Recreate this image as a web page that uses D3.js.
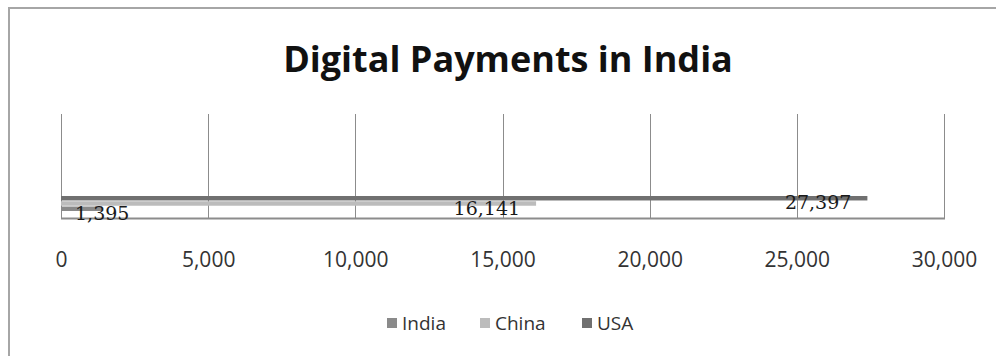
<!DOCTYPE html>
<html>
<head>
<meta charset="utf-8">
<script src="https://cdn.jsdelivr.net/npm/d3@7"></script>
<style>
  body { margin: 0; background: #fff; }
  svg { display: block; }
</style>
</head>
<body>
<script>
// Data
const seriesNames = ['India', 'China', 'USA'];
const seriesValues = [1395, 16141, 27397];
const seriesColors = ['#8a8a8a', '#bcbcbc', '#707070'];
const tickValues = [0, 5000, 10000, 15000, 20000, 25000, 30000];
const title = 'Digital Payments in India';

const W = 996, H = 356;
const svg = d3.select('body').append('svg').attr('width', W).attr('height', H);

// outer chart border (cropped on right and bottom)
svg.append('rect')
  .attr('x', 9).attr('y', 8).attr('width', 1000).attr('height', 400)
  .attr('fill', '#fff').attr('stroke', '#a6a6a6').attr('stroke-width', 2);

svg.append('text')
  .attr('x', 508).attr('y', 72)
  .attr('text-anchor', 'middle')
  .attr('font-family', 'Open Sans, sans-serif')
  .attr('font-weight', 700)
  .attr('font-size', 36)
  .attr('fill', '#111')
  .text(title);

const plot = { left: 61, right: 944, top: 114, bottom: 218 };
const x = d3.scaleLinear().domain([0, 30000]).range([plot.left, plot.right]);

// bars stacked bottom-up in series order (Excel style): India lowest
const y = d3.scaleBand()
  .domain(seriesNames.slice().reverse())
  .range([196, 211])
  .paddingInner(0.15);

// gridlines
svg.append('g')
  .selectAll('line')
  .data(tickValues)
  .join('line')
  .attr('x1', d => Math.round(x(d)) + 0.5).attr('x2', d => Math.round(x(d)) + 0.5)
  .attr('y1', plot.top).attr('y2', plot.bottom)
  .attr('stroke', '#8c8c8c').attr('stroke-width', 1);

svg.append('line')
  .attr('x1', plot.left).attr('x2', plot.right + 1)
  .attr('y1', plot.bottom + 0.5).attr('y2', plot.bottom + 0.5)
  .attr('stroke', '#8c8c8c').attr('stroke-width', 2);

// bars
svg.append('g')
  .selectAll('rect')
  .data(seriesNames.map((n, i) => ({ name: n, value: seriesValues[i], color: seriesColors[i] })))
  .join('rect')
  .attr('x', x(0))
  .attr('y', d => y(d.name))
  .attr('width', d => x(d.value) - x(0))
  .attr('height', y.bandwidth())
  .attr('fill', d => d.color);

// value labels, inside end, clamped to the plot's left edge
const fmt = d3.format(',');
svg.append('g')
  .selectAll('text')
  .data(seriesNames.map((n, i) => ({ name: n, value: seriesValues[i] })))
  .join('text')
  .attr('font-family', 'DejaVu Serif, serif')
  .attr('font-size', 19)
  .attr('fill', '#1a1a1a')
  .attr('text-anchor', 'end')
  .attr('y', d => y(d.name) + y.bandwidth() / 2 + 11)
  .text(d => fmt(d.value))
  .attr('x', function (d) {
    const w = this.getComputedTextLength();
    return Math.max(x(d.value) - 16, plot.left + 14 + w);
  });

// x axis tick labels
const axis = d3.axisBottom(x).tickValues(tickValues).tickFormat(fmt).tickSize(0).tickPadding(0);
const ax = svg.append('g').attr('transform', `translate(0,${267})`).call(axis);
ax.select('.domain').remove();
ax.selectAll('text')
  .attr('font-family', 'Open Sans, sans-serif')
  .attr('font-size', 21)
  .attr('fill', '#333')
  .attr('dy', 0);

// legend
const legendX = [387, 480, 582];
const lg = svg.append('g')
  .selectAll('g')
  .data(seriesNames)
  .join('g')
  .attr('transform', (d, i) => `translate(${legendX[i]},323)`);
lg.append('rect')
  .attr('x', 0).attr('y', -5).attr('width', 10).attr('height', 10)
  .attr('fill', (d, i) => seriesColors[i]);
lg.append('text')
  .attr('x', 15).attr('y', 7)
  .attr('font-family', 'Open Sans, sans-serif')
  .attr('font-size', 19)
  .attr('fill', '#333')
  .text(d => d);
</script>
</body>
</html>
